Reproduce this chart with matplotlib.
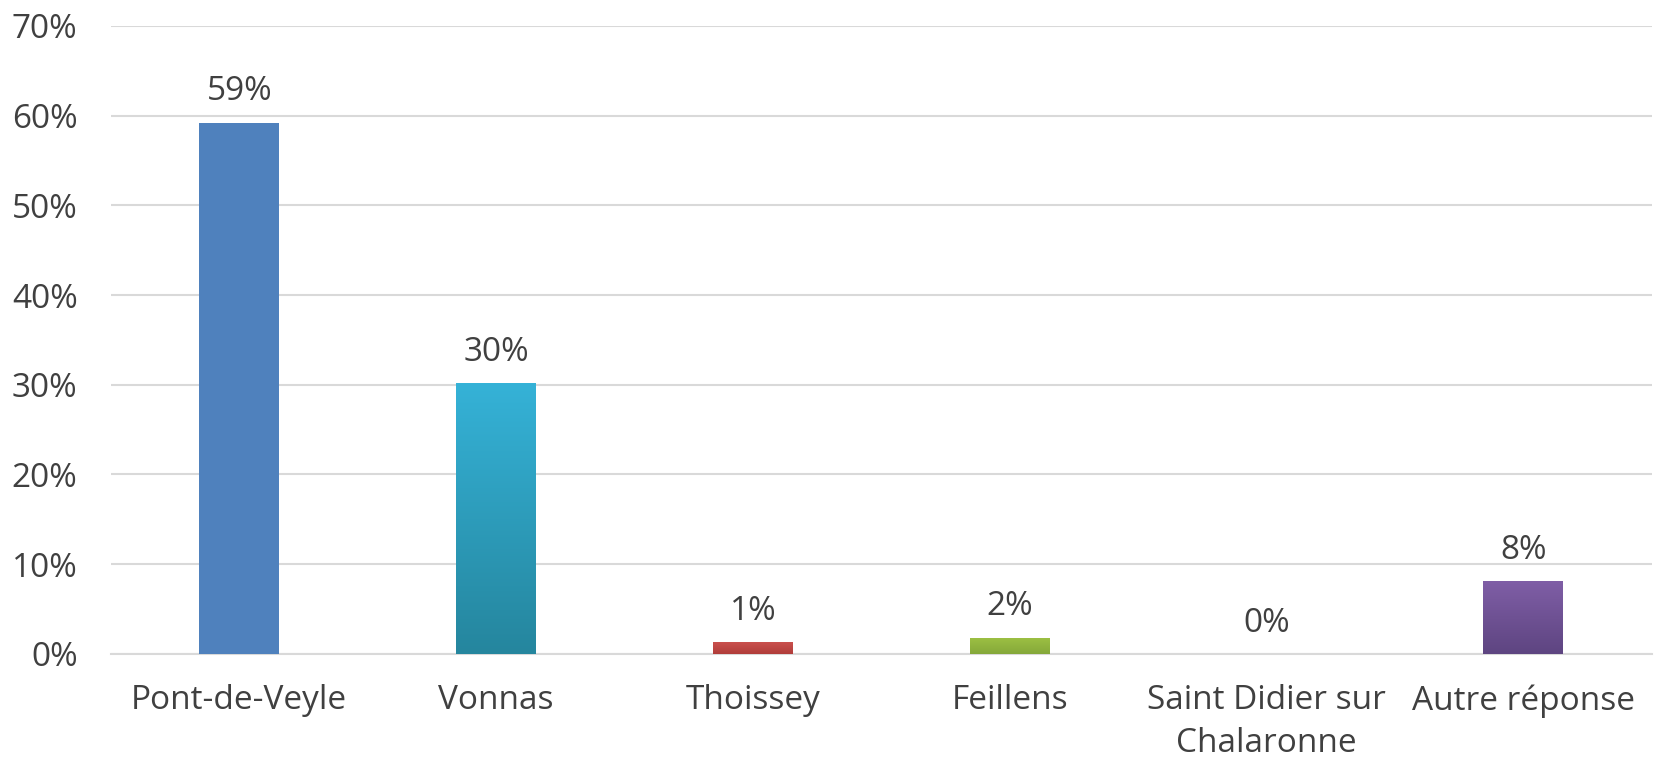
import matplotlib.pyplot as plt
import numpy as np
from matplotlib.colors import LinearSegmentedColormap

categories = ['Pont-de-Veyle', 'Vonnas', 'Thoissey', 'Feillens',
              'Saint Didier sur\nChalaronne', 'Autre réponse']
values = [59.2, 30.2, 1.3, 1.8, 0.0, 8.1]
value_labels = ['59%', '30%', '1%', '2%', '0%', '8%']
# (top colour, bottom colour) per bar
bar_colors = [('#4F81BD', '#4F81BD'),
              ('#35B2D7', '#25869E'),
              ('#C9504D', '#B13D3A'),
              ('#9DC143', '#85A83A'),
              ('#8064A2', '#8064A2'),
              ('#7F5EA6', '#5E4581')]
yticks = [0, 10, 20, 30, 40, 50, 60, 70]

plt.rcParams['font.family'] = ['Open Sans', 'DejaVu Sans']
text_col = '#404040'
fs = 24

fig = plt.figure(figsize=(16.55, 7.63), dpi=100)
ax = fig.add_axes([0.067, 0.143, 0.931, 0.823])

x = np.arange(len(categories))
width = 0.31
bars = ax.bar(x, values, width=width, color='none', zorder=3)
for b, (top, bot) in zip(bars, bar_colors):
    h = b.get_height()
    if h <= 0:
        continue
    cmap = LinearSegmentedColormap.from_list('g', [bot, top])
    grad = np.linspace(0, 1, 100).reshape(-1, 1)
    im = ax.imshow(grad, cmap=cmap, origin='lower', aspect='auto',
                   extent=[b.get_x(), b.get_x() + b.get_width(), 0, h], zorder=3)
    im.set_clip_path(b)

for xi, v, lab in zip(x, values, value_labels):
    ax.text(xi, v + 1.6, lab, ha='center', va='bottom', fontsize=fs, color=text_col)

ax.set_xlim(-0.5, len(categories) - 0.5)
ax.set_ylim(0, 70)
ax.set_yticks(yticks)
ax.set_yticklabels([f'{t}%' for t in yticks], fontsize=fs, color=text_col)
ax.set_xticks(x)
ax.set_xticklabels(categories, fontsize=fs, color=text_col, linespacing=1.4)
ax.tick_params(length=0)
ax.tick_params(axis='x', pad=22)
ax.tick_params(axis='y', pad=24)
ax.yaxis.grid(True, color='#D9D9D9', linewidth=1.5, zorder=0)
ax.set_axisbelow(True)
for s in ['top', 'right', 'left']:
    ax.spines[s].set_visible(False)
ax.spines['bottom'].set_color('#D9D9D9')
ax.spines['bottom'].set_linewidth(1.5)

fig.savefig('out.png', dpi=100)
